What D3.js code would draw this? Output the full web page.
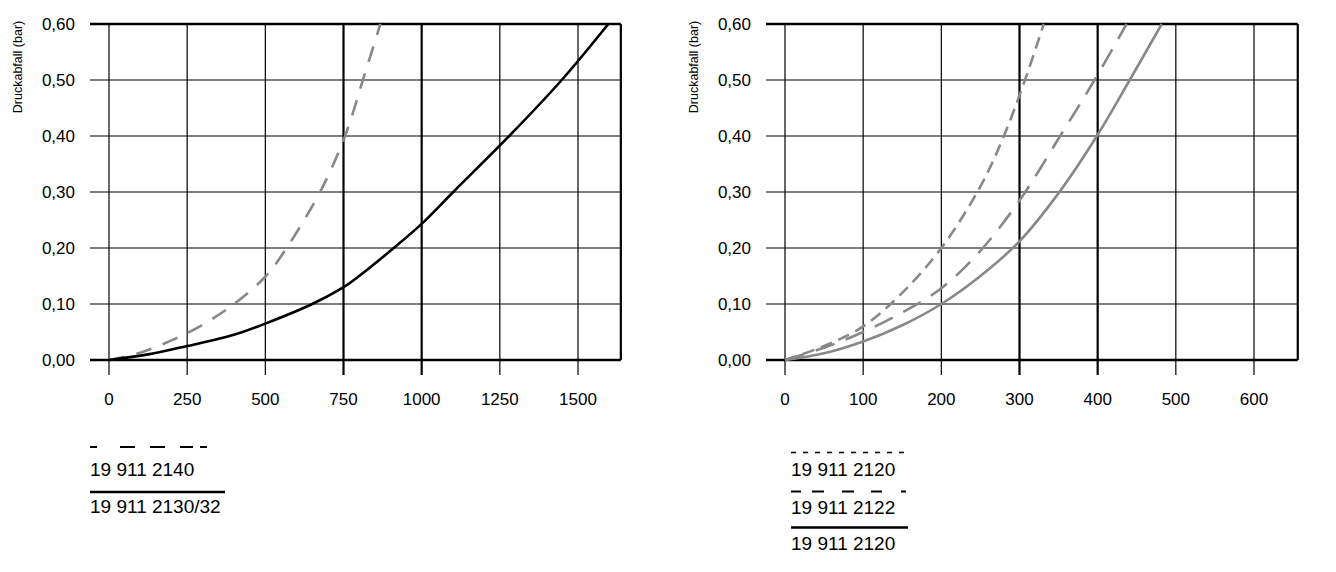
<!DOCTYPE html>
<html lang="de">
<head>
<meta charset="utf-8">
<title>Druckabfall</title>
<script src="https://cdn.jsdelivr.net/npm/d3@7"></script>
<style>
  body { margin: 0; background: #fff; }
  text { font-family: "Liberation Sans", Arial, sans-serif; fill: #000; }
</style>
</head>
<body>
<script>
// ---- data ----
var yTicks = [0, 0.1, 0.2, 0.3, 0.4, 0.5, 0.6];

// left panel
var leftTicks = [0, 250, 500, 750, 1000, 1250, 1500];
var left2140 = [[0,0],[100,0.013],[200,0.035],[250,0.048],[300,0.063],[400,0.1],[502,0.15],[568,0.2],[675,0.3],[755,0.4],[812,0.5],[868,0.6]];
var left2130 = [[0,0],[125,0.01],[250,0.025],[400,0.045],[500,0.065],[650,0.1],[750,0.13],[800,0.15],[900,0.195],[1000,0.243],[1101,0.3],[1280,0.4],[1448,0.5],[1597,0.6]];

// right panel
var rightTicks = [0, 100, 200, 300, 400, 500, 600];
var right2120a = [[0,0],[50,0.025],[100,0.06],[150,0.12],[200,0.2],[250,0.31],[280,0.4],[307,0.5],[331,0.6]];
var right2122 = [[0,0],[50,0.022],[100,0.05],[150,0.085],[200,0.128],[250,0.195],[300,0.285],[352,0.4],[396,0.5],[437,0.6]];
var right2120b = [[0,0],[50,0.012],[100,0.033],[150,0.062],[200,0.1],[250,0.15],[300,0.212],[350,0.298],[399,0.4],[441,0.5],[482,0.6]];

var fmt = function(d) { return d3.format(".2f")(d).replace(".", ","); };

var svg = d3.select("body").append("svg").attr("width", 1336).attr("height", 572);

function panel(opt) {
  var last = opt.ticks[opt.ticks.length - 1];
  var x = d3.scaleLinear().domain([0, last]).range([opt.x0, opt.x1]);
  var y = d3.scaleLinear().domain([0, 0.6]).range([360, 24]);
  var g = svg.append("g");
  var xEnd = x(opt.xmax);

  // horizontal grid
  g.selectAll(".hg").data(yTicks).enter().append("line")
    .attr("x1", opt.x0 - 19).attr("x2", xEnd)
    .attr("y1", function(d) { return y(d); }).attr("y2", function(d) { return y(d); })
    .attr("stroke", "#000")
    .attr("stroke-width", function(d) { return (d == 0 || d == 0.6) ? 2.5 : 1.2; });

  // vertical grid + ticks
  g.selectAll(".vg").data(opt.ticks).enter().append("line")
    .attr("x1", function(d) { return x(d); }).attr("x2", function(d) { return x(d); })
    .attr("y1", y(0.6)).attr("y2", 375)
    .attr("stroke", "#000")
    .attr("stroke-width", function(d) { return opt.strong.indexOf(d) >= 0 ? 2.2 : 1.2; });

  // right border
  g.append("line").attr("x1", xEnd).attr("x2", xEnd).attr("y1", y(0.6)).attr("y2", y(0))
    .attr("stroke", "#000").attr("stroke-width", 2.2);

  // tick labels
  g.selectAll(".yl").data(yTicks).enter().append("text")
    .attr("x", opt.x0 - 34).attr("y", function(d) { return y(d) + 6; })
    .attr("text-anchor", "end").attr("font-size", "17px")
    .text(fmt);
  g.selectAll(".xl").data(opt.ticks).enter().append("text")
    .attr("x", function(d) { return x(d); }).attr("y", 405)
    .attr("text-anchor", "middle").attr("font-size", "17px")
    .text(function(d) { return d; });

  // y title
  g.append("text")
    .attr("transform", "translate(" + (opt.x0 - 87) + ",67) rotate(-90)")
    .attr("text-anchor", "middle").attr("font-size", "12.5px")
    .text("Druckabfall (bar)");

  var line = d3.line().x(function(d) { return x(d[0]); }).y(function(d) { return y(d[1]); })
    .curve(d3.curveCatmullRom.alpha(0.5));
  opt.series.forEach(function(s) {
    g.append("path").datum(s.data).attr("d", line)
      .attr("fill", "none").attr("stroke", s.color).attr("stroke-width", s.width)
      .attr("stroke-dasharray", s.dash);
  });

  // legend
  opt.legend.forEach(function(l) {
    g.append("line").attr("x1", opt.lx).attr("x2", opt.lx + l.len)
      .attr("y1", l.ly).attr("y2", l.ly)
      .attr("stroke", "#000").attr("stroke-width", l.width)
      .attr("stroke-dasharray", l.dash);
    g.append("text").attr("x", opt.lx).attr("y", l.ty).attr("font-size", "19px").text(l.label);
  });
}

panel({
  x0: 109, x1: 578, xmax: 1637, ticks: leftTicks, strong: [750, 1000],
  series: [
    { data: left2140, color: "#888", width: 2.6, dash: "16,12" },
    { data: left2130, color: "#000", width: 2.6, dash: null }
  ],
  lx: 90,
  legend: [
    { label: "19 911 2140", ly: 447, ty: 476, len: 117, width: 2, dash: "7,23,15,15,15,15,13,7,7" },
    { label: "19 911 2130/32", ly: 492, ty: 513, len: 135, width: 2.5, dash: null }
  ]
});

panel({
  x0: 785, x1: 1254, xmax: 656, ticks: rightTicks, strong: [300, 400],
  series: [
    { data: right2120a, color: "#888", width: 2.6, dash: "12,7" },
    { data: right2122, color: "#888", width: 2.6, dash: "20,12" },
    { data: right2120b, color: "#888", width: 2.6, dash: null }
  ],
  lx: 791,
  legend: [
    { label: "19 911 2120", ly: 452.5, ty: 476, len: 117, width: 1.3, dash: "5,7" },
    { label: "19 911 2122", ly: 491.5, ty: 514, len: 117, width: 2, dash: "10,11,12,18,12,17,11,19,5" },
    { label: "19 911 2120", ly: 527.5, ty: 550, len: 117, width: 2.5, dash: null }
  ]
});
</script>
</body>
</html>
